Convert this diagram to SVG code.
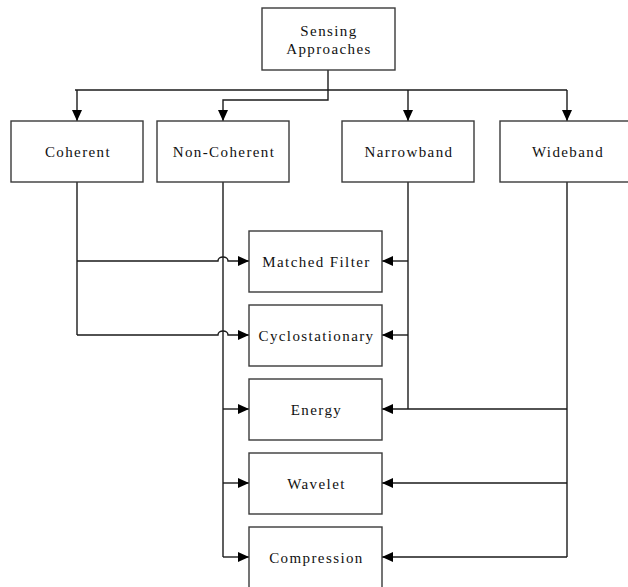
<svg xmlns="http://www.w3.org/2000/svg" width="628" height="587" viewBox="0 0 628 587">
<style>
.box{fill:#fff;stroke:#3a3a3a;stroke-width:1.4}
.lbl{font-family:"Liberation Serif","Times New Roman",serif;font-size:15px;letter-spacing:1.4px;fill:#111;text-anchor:middle;dominant-baseline:central}
.ln{fill:none;stroke:#1a1a1a;stroke-width:1.4}
</style>
<defs>
<marker id="ah" markerWidth="12" markerHeight="10" refX="11" refY="5" orient="auto" markerUnits="userSpaceOnUse">
<path d="M0,0 L11,5 L0,10 Z" fill="#000"/>
</marker>
</defs>
<rect x="0" y="0" width="628" height="587" fill="#fff"/>
<g id="connectors">
<path class="ln" d="M328,70 V90"/>
<path class="ln" d="M75,90 H567"/>
<path class="ln" d="M77,90 V121" marker-end="url(#ah)"/>
<path class="ln" d="M328,90 V100 H223 V121" marker-end="url(#ah)"/>
<path class="ln" d="M408,90 V121" marker-end="url(#ah)"/>
<path class="ln" d="M567,90 V121" marker-end="url(#ah)"/>
<path class="ln" d="M77,182 V335"/>
<path class="ln" d="M77,261 H218 A5,4 0 0 1 228,261 H249" marker-end="url(#ah)"/>
<path class="ln" d="M77,335 H218 A5,4 0 0 1 228,335 H249" marker-end="url(#ah)"/>
<path class="ln" d="M223,182 V557"/>
<path class="ln" d="M223,409 H249" marker-end="url(#ah)"/>
<path class="ln" d="M223,483 H249" marker-end="url(#ah)"/>
<path class="ln" d="M223,557 H249" marker-end="url(#ah)"/>
<path class="ln" d="M408,182 V409"/>
<path class="ln" d="M408,261 H382" marker-end="url(#ah)"/>
<path class="ln" d="M408,335 H382" marker-end="url(#ah)"/>
<path class="ln" d="M567,182 V557"/>
<path class="ln" d="M567,409 H382" marker-end="url(#ah)"/>
<path class="ln" d="M567,483 H382" marker-end="url(#ah)"/>
<path class="ln" d="M567,557 H382" marker-end="url(#ah)"/>
</g>
<g id="sensing"><rect class="box" x="262" y="8" width="133" height="62"/><text class="lbl" x="329" y="31">Sensing</text><text class="lbl" x="329" y="49">Approaches</text></g>
<g id="coherent"><rect class="box" x="11" y="121" width="132" height="61"/><text class="lbl" x="78" y="151.5">Coherent</text></g>
<g id="noncoherent"><rect class="box" x="157" y="121" width="132" height="61"/><text class="lbl" x="224" y="151.5">Non-Coherent</text></g>
<g id="narrowband"><rect class="box" x="342" y="121" width="132" height="61"/><text class="lbl" x="409" y="151.5">Narrowband</text></g>
<g id="wideband"><rect class="box" x="500" y="121" width="134" height="61"/><text class="lbl" x="568" y="151.5">Wideband</text></g>
<g id="matched"><rect class="box" x="249" y="231" width="133" height="61"/><text class="lbl" x="316.5" y="261.5">Matched Filter</text></g>
<g id="cyclo"><rect class="box" x="249" y="305" width="133" height="61"/><text class="lbl" x="316.5" y="335.5">Cyclostationary</text></g>
<g id="energy"><rect class="box" x="249" y="379" width="133" height="61"/><text class="lbl" x="316.5" y="409.5">Energy</text></g>
<g id="wavelet"><rect class="box" x="249" y="453" width="133" height="61"/><text class="lbl" x="316.5" y="483.5">Wavelet</text></g>
<g id="compression"><rect class="box" x="249" y="527" width="133" height="70"/><text class="lbl" x="316.5" y="557.5">Compression</text></g>
</svg>
